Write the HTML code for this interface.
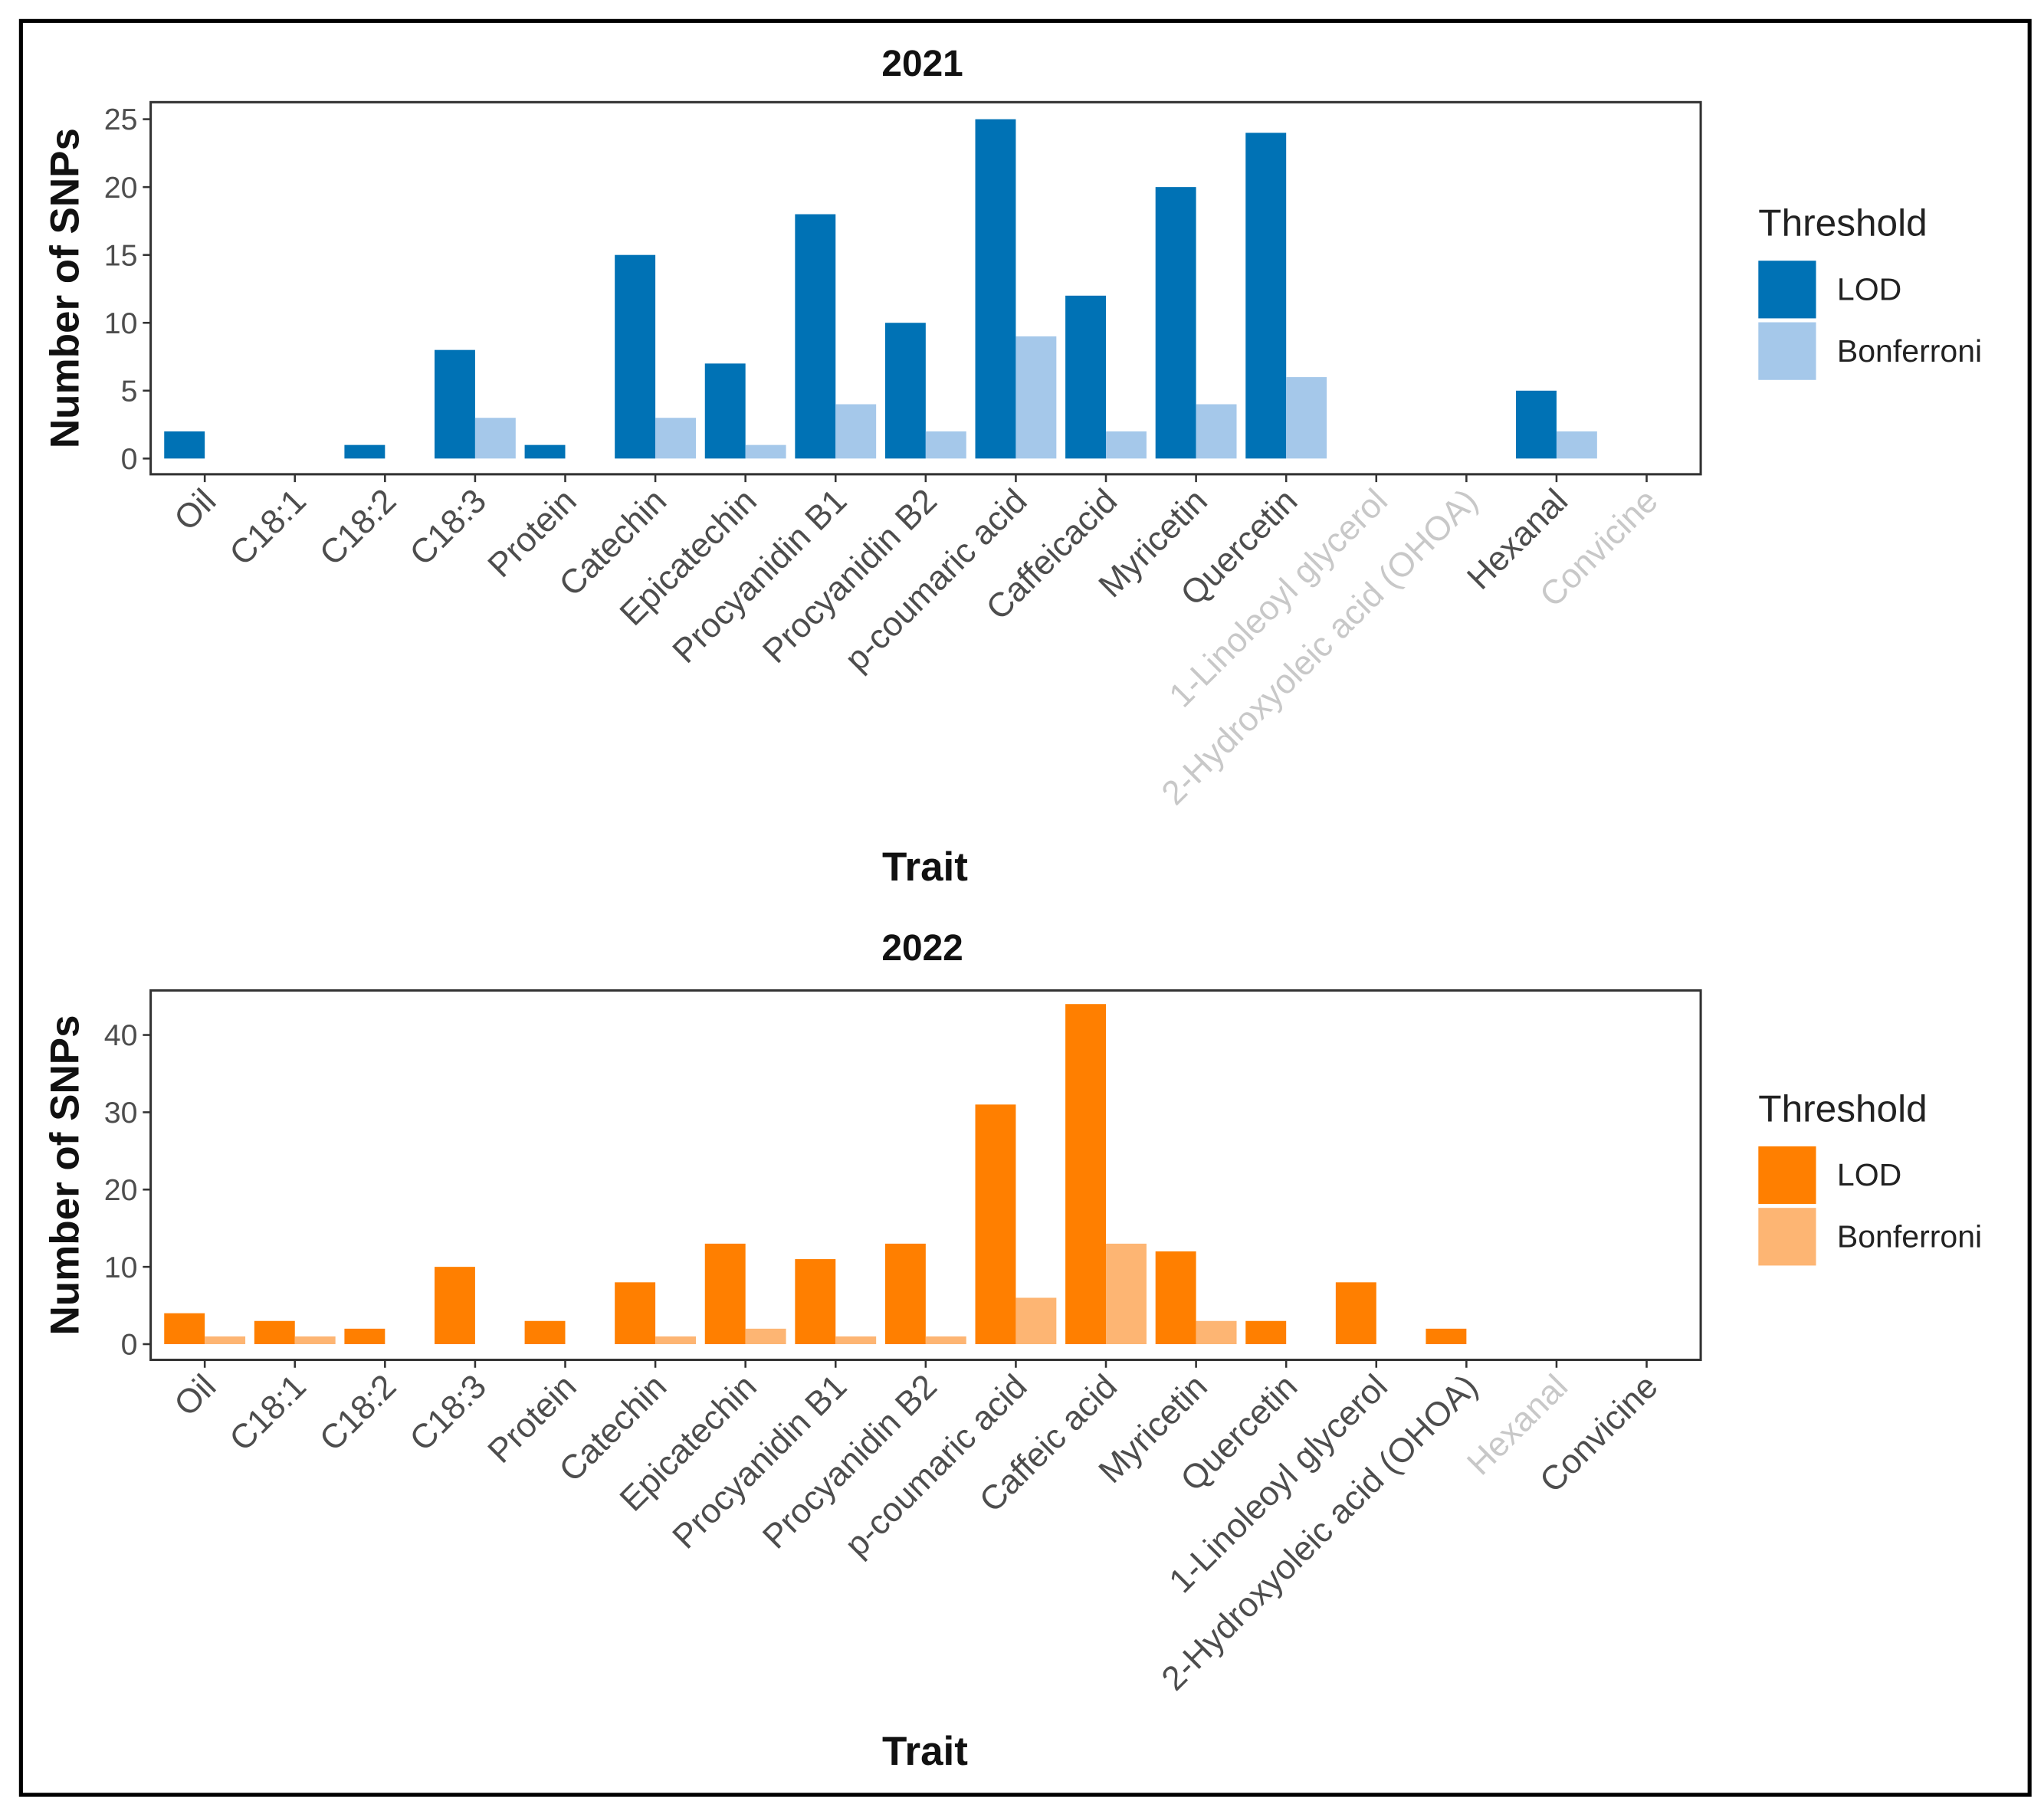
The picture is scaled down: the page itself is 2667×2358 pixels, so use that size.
<!DOCTYPE html>
<html><head><meta charset="utf-8"><style>
html,body{margin:0;padding:0;background:#fff}
svg{display:block}
text{font-family:"Liberation Sans",sans-serif}
</style></head><body>
<svg id="c" width="2667" height="2358" viewBox="0 0 1560 1379.3" preserveAspectRatio="none" xmlns="http://www.w3.org/2000/svg">
<rect x="16" y="16" width="1533" height="1354" fill="#fff" stroke="#000" stroke-width="3"/>
</svg>
<script>
const categories=["Oil","C18:1","C18:2","C18:3","Protein","Catechin","Epicatechin","Procyanidin B1","Procyanidin B2","p-coumaric acid","Caffeic acid","Myricetin","Quercetin","1-Linoleoyl glycerol","2-Hydroxyoleic acid (OHOA)","Hexanal","Convicine"];
const lod2021=[2,0,1,8,1,15,7,18,10,25,12,20,24,0,0,5,0];
const bonf2021=[0,0,0,3,0,3,1,4,2,9,2,4,6,0,0,2,0];
const lod2022=[4,3,2,10,3,8,13,11,13,31,44,12,3,8,2,0,0];
const bonf2022=[1,1,0,0,0,1,2,1,1,6,13,3,0,0,0,0,0];
const ticks2021=[0,5,10,15,20,25];
const ticks2022=[0,10,20,30,40];
const grey2021=["1-Linoleoyl glycerol","2-Hydroxyoleic acid (OHOA)","Convicine"];
const grey2022=["Hexanal"];
const labels2021=["Oil","C18:1","C18:2","C18:3","Protein","Catechin","Epicatechin","Procyanidin B1","Procyanidin B2","p-coumaric acid","Caffeicacid","Myricetin","Quercetin","1-Linoleoyl glycerol","2-Hydroxyoleic acid (OHOA)","Hexanal","Convicine"];

const svg=document.getElementById('c');
const NS="http://www.w3.org/2000/svg";
function mk(tag,attrs,parent){const e=document.createElementNS(NS,tag);for(const k in attrs)e.setAttribute(k,attrs[k]);(parent||svg).appendChild(e);return e;}

function panel(o){
  const g=mk('g',{});
  
  
  const x0=115,x1=1298,n=categories.length;
  const step=(x1-x0)/(n-1+1.2);
  const xc=i=>x0+(0.6+i)*step;
  const bw=step*0.45;
  const y=v=>o.y0-(v/o.vmax)*(o.y0-o.yTop);
  const t=mk('text',{x:704,y:o.titleY,'text-anchor':'middle','font-size':28,'font-weight':'bold',fill:'#111'},g);
  t.textContent=o.title;
  
  
  for(let i=0;i<n;i++){
    if(o.lod[i]>0){const r=mk('rect',{x:xc(i)-bw,y:y(o.lod[i]),width:bw,height:o.y0-y(o.lod[i]),fill:o.c1},g);
      
      }
    if(o.bonf[i]>0){const r=mk('rect',{x:xc(i),y:y(o.bonf[i]),width:bw,height:o.y0-y(o.bonf[i]),fill:o.c2},g);
      
      }
  }
  const box=mk('rect',{x:x0,y:o.boxTop,width:x1-x0,height:o.boxBot-o.boxTop,fill:'none',stroke:'#333','stroke-width':1.8},g);
  
  
  o.ticks.forEach(v=>{
    mk('line',{x1:x0-6,x2:x0,y1:y(v),y2:y(v),stroke:'#333','stroke-width':1.5},g);
    const tl=mk('text',{x:x0-10,y:y(v)+8,'text-anchor':'end','font-size':23,fill:'#4d4d4d'},g);
    tl.textContent=v;
    
    
  });
  for(let i=0;i<n;i++){
    mk('line',{x1:xc(i),x2:xc(i),y1:o.boxBot,y2:o.boxBot+6,stroke:'#333','stroke-width':1.5},g);
    const lx=xc(i)+10,ly=o.boxBot+22;
    const tl=mk('text',{x:lx,y:ly,'text-anchor':'end','font-size':26,fill:o.grey.includes(categories[i])?'#c8c8c8':'#4d4d4d',transform:`rotate(-45 ${lx} ${ly})`},g);
    tl.textContent=o.labels[i];
    
    
  }
  const cy=(o.boxTop+o.boxBot)/2;
  const yt=mk('text',{x:60,y:cy,'text-anchor':'middle','font-size':31,'font-weight':'bold',fill:'#111',transform:`rotate(-90 60 ${cy})`},g);
  yt.textContent='Number of SNPs';
  
  
  const xt=mk('text',{x:706,y:o.traitY,'text-anchor':'middle','font-size':31,'font-weight':'bold',fill:'#111'},g);
  xt.textContent='Trait';
  
  
  const lt=mk('text',{x:1342,y:o.legY,'font-size':29,fill:'#222'},g);
  lt.textContent='Threshold';
  
  
  [[o.c1,'LOD'],[o.c2,'Bonferroni']].forEach((e,k)=>{
    const ky=o.legY+19+k*47;
    const r=mk('rect',{x:1342,y:ky,width:44,height:44,fill:e[0]},g);
    
    
    const tx=mk('text',{x:1402,y:ky+30,'font-size':24,fill:'#222'},g);
    tx.textContent=e[1];
    
    
  });
}
panel({name:'chart-2021',title:'2021',titleY:58,lod:lod2021,bonf:bonf2021,ticks:ticks2021,vmax:25,y0:350,yTop:91,boxTop:78,boxBot:362,c1:'#0072b5',c2:'#a5c8ea',grey:grey2021,labels:labels2021,traitY:672,legY:180});
panel({name:'chart-2022',title:'2022',titleY:733,lod:lod2022,bonf:bonf2022,ticks:ticks2022,vmax:40,y0:1026,yTop:790,boxTop:756,boxBot:1038,c1:'#ff7f00',c2:'#fdb573',grey:grey2022,labels:categories,traitY:1347,legY:856});
</script>
</body></html>
